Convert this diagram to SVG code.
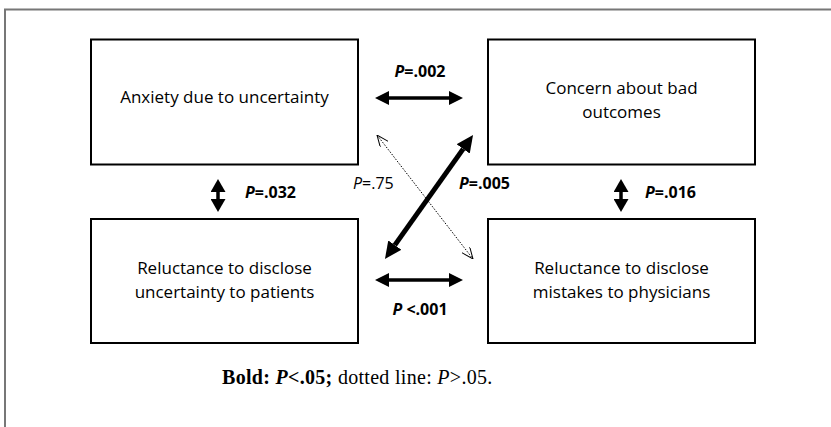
<svg xmlns="http://www.w3.org/2000/svg" width="831" height="427" viewBox="0 0 831 427">
<style>
.box{fill:#fff;stroke:#000;stroke-width:2}
.t{font-family:"Open Sans","Liberation Sans",sans-serif;font-size:17px;fill:#000;text-anchor:middle}
.p{font-family:"Open Sans","Liberation Sans",sans-serif;font-size:16px;font-weight:bold;fill:#000}
.pn{font-family:"Open Sans","Liberation Sans",sans-serif;font-size:16px;fill:#000}
.cap{font-family:"Liberation Serif",serif;font-size:20px;fill:#000;letter-spacing:0.3px}
.thick{stroke:#000;stroke-width:3.5;fill:none}
</style>
<defs>
<marker id="h" viewBox="0 0 14 14" refX="0" refY="7" markerWidth="14" markerHeight="14" markerUnits="userSpaceOnUse" orient="auto-start-reverse"><path d="M0,0 L14,7 L0,14 z" fill="#000"/></marker>
<marker id="hd" viewBox="0 0 14 14" refX="0" refY="7" markerWidth="17" markerHeight="16" markerUnits="userSpaceOnUse" orient="auto-start-reverse" preserveAspectRatio="none"><path d="M0,0 L14,7 L0,14 z" fill="#000"/></marker>
<marker id="hv" viewBox="0 0 14 14" refX="0" refY="7" markerWidth="13" markerHeight="15" markerUnits="userSpaceOnUse" orient="auto-start-reverse" preserveAspectRatio="none"><path d="M0,0 L14,7 L0,14 z" fill="#000"/></marker>
<marker id="o" viewBox="0 0 12 10" refX="12" refY="5" markerWidth="12" markerHeight="10" markerUnits="userSpaceOnUse" orient="auto-start-reverse"><path d="M0,0 L12,5 L0,10" fill="none" stroke="#000" stroke-width="1"/></marker>
</defs>
<rect width="831" height="427" fill="#fff"/>
<path d="M5,427 V9.5 H831" fill="none" stroke="#777" stroke-width="2"/>
<g id="n1"><rect class="box" x="91" y="39.5" width="267" height="125"/><text class="t" x="224.5" y="103">Anxiety due to uncertainty</text></g>
<g id="n2"><rect class="box" x="488" y="39.5" width="267" height="125"/><text class="t" x="621.5" y="94">Concern about bad</text><text class="t" x="621.5" y="118">outcomes</text></g>
<g id="n3"><rect class="box" x="91" y="219" width="267" height="124"/><text class="t" x="224.5" y="274">Reluctance to disclose</text><text class="t" x="224.5" y="298">uncertainty to patients</text></g>
<g id="n4"><rect class="box" x="488" y="219" width="267" height="124"/><text class="t" x="621.5" y="274">Reluctance to disclose</text><text class="t" x="621.5" y="298">mistakes to physicians</text></g>
<g id="connectors">
<line class="thick" x1="389" y1="98" x2="449" y2="98" marker-start="url(#h)" marker-end="url(#h)"/>
<line class="thick" x1="389" y1="280" x2="449" y2="280" marker-start="url(#h)" marker-end="url(#h)"/>
<line class="thick" x1="218" y1="192" x2="218" y2="199" marker-start="url(#hv)" marker-end="url(#hv)"/>
<line class="thick" x1="621" y1="192" x2="621" y2="199" marker-start="url(#hv)" marker-end="url(#hv)"/>
<line x1="394.8" y1="245.1" x2="463.2" y2="148.9" stroke="#000" stroke-width="5" marker-start="url(#hd)" marker-end="url(#hd)"/>
<line x1="377" y1="135" x2="473" y2="259" stroke="#000" stroke-width="1" stroke-dasharray="1.5 1.5" marker-start="url(#o)" marker-end="url(#o)"/>
</g>
<g id="labels">
<text class="p" x="420" y="77" text-anchor="middle"><tspan font-style="italic">P</tspan>=.002</text>
<text class="p" x="420" y="315" text-anchor="middle"><tspan font-style="italic">P</tspan> &lt;.001</text>
<text class="p" x="245" y="198"><tspan font-style="italic">P</tspan>=.032</text>
<text class="p" x="645" y="198"><tspan font-style="italic">P</tspan>=.016</text>
<text class="pn" x="353" y="189"><tspan font-style="italic">P</tspan>=.75</text>
<text class="p" x="459" y="189"><tspan font-style="italic">P</tspan>=.005</text>
</g>
<text class="cap" x="222" y="384"><tspan font-weight="bold">Bold: <tspan font-style="italic">P</tspan>&lt;.05;</tspan> dotted line: <tspan font-style="italic">P</tspan>&gt;.05.</text>
</svg>
